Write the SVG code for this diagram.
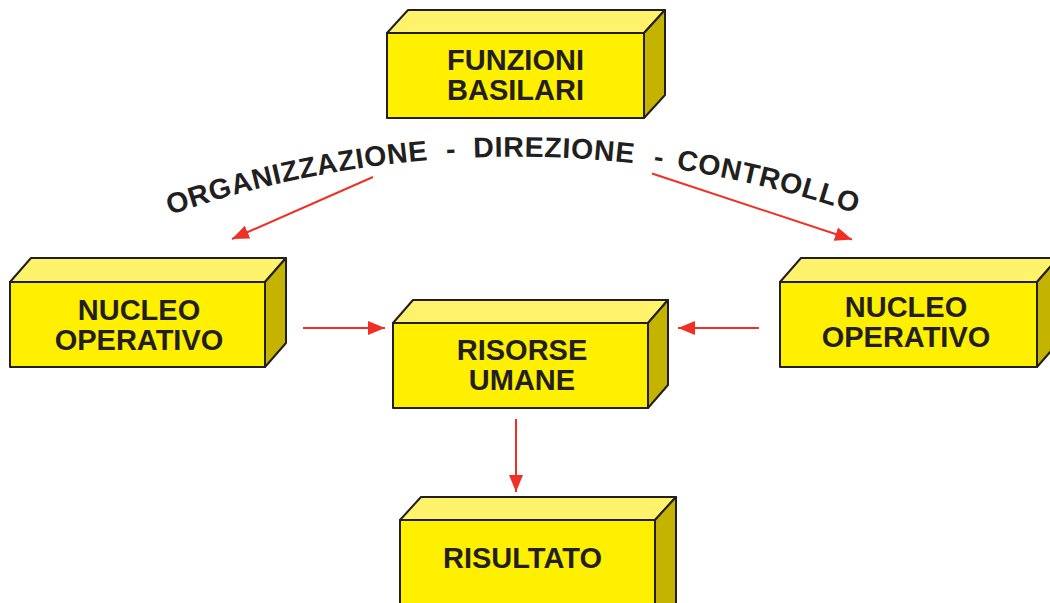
<svg xmlns="http://www.w3.org/2000/svg" xmlns:xlink="http://www.w3.org/1999/xlink" width="1050" height="603" viewBox="0 0 1050 603">
<style>
.front{fill:#FFF000;stroke:#231F20;stroke-width:2;stroke-linejoin:round}
.top{fill:#FFF36B;stroke:#231F20;stroke-width:2;stroke-linejoin:round}
.side{fill:#C4B400;stroke:#231F20;stroke-width:2;stroke-linejoin:round}
.lbl{font-family:"Liberation Sans",Arial,sans-serif;font-weight:bold;font-size:29px;fill:#231F20;text-anchor:middle}
.arc{font-family:"Liberation Sans",Arial,sans-serif;font-weight:bold;font-size:28.5px;fill:#231F20;letter-spacing:0.6px}
.conn{stroke:#EE3124;stroke-width:2;fill:none;marker-end:url(#ah)}
</style>
<defs>
<marker id="ah" markerUnits="userSpaceOnUse" markerWidth="18" markerHeight="14" viewBox="0 0 18 14" refX="17" refY="7" orient="auto">
<path d="M0,0 L17,7 L0,14 Z" fill="#EE3124"/>
</marker>
<path id="arcp" d="M170,215 A1050,1050 0 0 1 900,229.8" fill="none"/>
</defs>
<rect width="1050" height="603" fill="#FFFFFF"/>

<g id="funzioni">
<polygon class="top" points="387,33 408,10 665,10 644,33"/>
<polygon class="side" points="644,33 665,10 665,95 644,118"/>
<rect class="front" x="387" y="33" width="257" height="85"/>
<text class="lbl" x="515.5" y="70">FUNZIONI</text>
<text class="lbl" x="515.5" y="100">BASILARI</text>
</g>

<g id="nucleo-sx">
<polygon class="top" points="10,282 31,258 286,258 265,282"/>
<polygon class="side" points="265,282 286,258 286,343 265,367"/>
<rect class="front" x="10" y="282" width="255" height="85"/>
<text class="lbl" x="139" y="320">NUCLEO</text>
<text class="lbl" x="139" y="350">OPERATIVO</text>
</g>

<g id="risorse">
<polygon class="top" points="393,323 413,300 668,300 648,323"/>
<polygon class="side" points="648,323 668,300 668,385 648,408"/>
<rect class="front" x="393" y="323" width="255" height="85"/>
<text class="lbl" x="522" y="360">RISORSE</text>
<text class="lbl" x="522" y="390">UMANE</text>
</g>

<g id="nucleo-dx">
<polygon class="top" points="780,282 801,258 1058,258 1037,282"/>
<polygon class="side" points="1037,282 1058,258 1058,343 1037,367"/>
<rect class="front" x="780" y="282" width="257" height="85"/>
<text class="lbl" x="906" y="317">NUCLEO</text>
<text class="lbl" x="906" y="347">OPERATIVO</text>
</g>

<g id="risultato">
<polygon class="top" points="400,520 421,497 676,497 655,520"/>
<polygon class="side" points="655,520 676,497 676,620 655,640"/>
<rect class="front" x="400" y="520" width="255" height="110"/>
<text class="lbl" x="522.5" y="568">RISULTATO</text>
</g>

<g id="funzioni-label">
<text class="arc"><textPath xlink:href="#arcp" startOffset="0">ORGANIZZAZIONE</textPath></text>
<text class="arc"><textPath xlink:href="#arcp" startOffset="283">-</textPath></text>
<text class="arc"><textPath xlink:href="#arcp" startOffset="310">DIREZIONE</textPath></text>
<text class="arc"><textPath xlink:href="#arcp" startOffset="490">-</textPath></text>
<text class="arc"><textPath xlink:href="#arcp" startOffset="513">CONTROLLO</textPath></text>
</g>

<g id="connectors">
<line class="conn" x1="373" y1="177" x2="232" y2="239"/>
<line class="conn" x1="652" y1="173.5" x2="852" y2="239.5"/>
<line class="conn" x1="303" y1="328" x2="385" y2="328"/>
<line class="conn" x1="759" y1="328" x2="678" y2="328"/>
<line class="conn" x1="516" y1="419" x2="516" y2="492"/>
</g>
</svg>
